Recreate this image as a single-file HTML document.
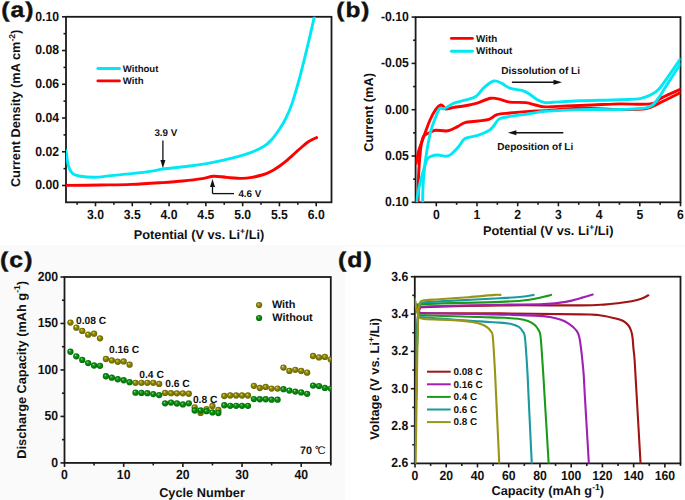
<!DOCTYPE html><html><head><meta charset="utf-8"><style>html,body{margin:0;padding:0;background:#fff;}svg{display:block;}text{font-family:"Liberation Sans",sans-serif;font-weight:bold;fill:#111;stroke:#111;stroke-width:0px;text-rendering:geometricPrecision;}</style></head><body>
<svg width="685" height="500" viewBox="0 0 685 500">
<defs>
<radialGradient id="gO" cx="0.5" cy="0.5" r="0.5" fx="0.36" fy="0.32"><stop offset="0" stop-color="#f2f0d0"/><stop offset="0.18" stop-color="#b8b240"/><stop offset="0.45" stop-color="#8c8600"/><stop offset="1" stop-color="#6a6400"/></radialGradient>
<radialGradient id="gG" cx="0.5" cy="0.5" r="0.5" fx="0.36" fy="0.32"><stop offset="0" stop-color="#e0f4e0"/><stop offset="0.18" stop-color="#40b040"/><stop offset="0.45" stop-color="#08900f"/><stop offset="1" stop-color="#046a08"/></radialGradient>
<clipPath id="cA"><rect x="66" y="16.8" width="265.5" height="185.5"/></clipPath>
<clipPath id="cB"><rect x="415.6" y="17.1" width="264.9" height="185.2"/></clipPath>
<clipPath id="cC"><rect x="64.5" y="277" width="266.3" height="185.9"/></clipPath>
<clipPath id="cD"><rect x="414.8" y="276.7" width="265.7" height="186.7"/></clipPath>
</defs>
<rect x="0" y="0" width="685" height="500" fill="#fff"/>
<rect x="0" y="245" width="345" height="255" fill="#fafafa"/>
<rect x="345" y="245" width="340" height="2" fill="#fafafa"/>
<rect x="64.5" y="277" width="266.3" height="185.9" fill="#fff"/>
<rect x="66" y="16.8" width="265.5" height="185.5" fill="none" stroke="#1a1a1a" stroke-width="1.8"/>
<line x1="95.5" y1="202.3" x2="95.5" y2="206.3" stroke="#1a1a1a" stroke-width="1.6"/>
<line x1="132.28" y1="202.3" x2="132.28" y2="206.3" stroke="#1a1a1a" stroke-width="1.6"/>
<line x1="169.07" y1="202.3" x2="169.07" y2="206.3" stroke="#1a1a1a" stroke-width="1.6"/>
<line x1="205.85" y1="202.3" x2="205.85" y2="206.3" stroke="#1a1a1a" stroke-width="1.6"/>
<line x1="242.64" y1="202.3" x2="242.64" y2="206.3" stroke="#1a1a1a" stroke-width="1.6"/>
<line x1="279.42" y1="202.3" x2="279.42" y2="206.3" stroke="#1a1a1a" stroke-width="1.6"/>
<line x1="316.21" y1="202.3" x2="316.21" y2="206.3" stroke="#1a1a1a" stroke-width="1.6"/>
<line x1="77.11" y1="202.3" x2="77.11" y2="204.8" stroke="#1a1a1a" stroke-width="1.6"/>
<line x1="113.89" y1="202.3" x2="113.89" y2="204.8" stroke="#1a1a1a" stroke-width="1.6"/>
<line x1="150.68" y1="202.3" x2="150.68" y2="204.8" stroke="#1a1a1a" stroke-width="1.6"/>
<line x1="187.46" y1="202.3" x2="187.46" y2="204.8" stroke="#1a1a1a" stroke-width="1.6"/>
<line x1="224.25" y1="202.3" x2="224.25" y2="204.8" stroke="#1a1a1a" stroke-width="1.6"/>
<line x1="261.03" y1="202.3" x2="261.03" y2="204.8" stroke="#1a1a1a" stroke-width="1.6"/>
<line x1="297.82" y1="202.3" x2="297.82" y2="204.8" stroke="#1a1a1a" stroke-width="1.6"/>
<line x1="66" y1="185.5" x2="62" y2="185.5" stroke="#1a1a1a" stroke-width="1.6"/>
<line x1="66" y1="151.76" x2="62" y2="151.76" stroke="#1a1a1a" stroke-width="1.6"/>
<line x1="66" y1="118.02" x2="62" y2="118.02" stroke="#1a1a1a" stroke-width="1.6"/>
<line x1="66" y1="84.28" x2="62" y2="84.28" stroke="#1a1a1a" stroke-width="1.6"/>
<line x1="66" y1="50.54" x2="62" y2="50.54" stroke="#1a1a1a" stroke-width="1.6"/>
<line x1="66" y1="16.8" x2="62" y2="16.8" stroke="#1a1a1a" stroke-width="1.6"/>
<line x1="66" y1="168.63" x2="63.5" y2="168.63" stroke="#1a1a1a" stroke-width="1.6"/>
<line x1="66" y1="134.89" x2="63.5" y2="134.89" stroke="#1a1a1a" stroke-width="1.6"/>
<line x1="66" y1="101.15" x2="63.5" y2="101.15" stroke="#1a1a1a" stroke-width="1.6"/>
<line x1="66" y1="67.41" x2="63.5" y2="67.41" stroke="#1a1a1a" stroke-width="1.6"/>
<line x1="66" y1="33.67" x2="63.5" y2="33.67" stroke="#1a1a1a" stroke-width="1.6"/>
<text transform="translate(95.5,219) scale(1.02,1.1)" text-anchor="middle" font-size="12">3.0</text>
<text transform="translate(132.28,219) scale(1.02,1.1)" text-anchor="middle" font-size="12">3.5</text>
<text transform="translate(169.07,219) scale(1.02,1.1)" text-anchor="middle" font-size="12">4.0</text>
<text transform="translate(205.85,219) scale(1.02,1.1)" text-anchor="middle" font-size="12">4.5</text>
<text transform="translate(242.64,219) scale(1.02,1.1)" text-anchor="middle" font-size="12">5.0</text>
<text transform="translate(279.42,219) scale(1.02,1.1)" text-anchor="middle" font-size="12">5.5</text>
<text transform="translate(316.21,219) scale(1.02,1.1)" text-anchor="middle" font-size="12">6.0</text>
<text transform="translate(59.1,189.32) scale(1.02,1.1)" text-anchor="end" font-size="12">0.00</text>
<text transform="translate(59.1,155.58) scale(1.02,1.1)" text-anchor="end" font-size="12">0.02</text>
<text transform="translate(59.1,121.84) scale(1.02,1.1)" text-anchor="end" font-size="12">0.04</text>
<text transform="translate(59.1,88.1) scale(1.02,1.1)" text-anchor="end" font-size="12">0.06</text>
<text transform="translate(59.1,54.36) scale(1.02,1.1)" text-anchor="end" font-size="12">0.08</text>
<text transform="translate(59.1,20.62) scale(1.02,1.1)" text-anchor="end" font-size="12">0.10</text>
<g clip-path="url(#cA)">
<path d="M66.1,185.4 C71.9,185.33 89.98,185.17 100.9,185 C111.82,184.83 121.38,184.8 131.6,184.4 C141.82,184 153.68,183.17 162.2,182.6 C170.72,182.03 176.02,181.67 182.7,181 C189.38,180.33 197.17,179.4 202.3,178.6 C207.43,177.8 209.42,176.4 213.5,176.2 C217.58,176 222.05,177.03 226.8,177.4 C231.55,177.77 237.8,178.4 242,178.4 C246.2,178.4 248.67,177.97 252,177.4 C255.33,176.83 259.33,175.77 262,175 C264.67,174.23 266,173.67 268,172.8 C270,171.93 272,170.97 274,169.8 C276,168.63 278,167.23 280,165.8 C282,164.37 284,162.87 286,161.2 C288,159.53 290,157.6 292,155.8 C294,154 296.17,152.03 298,150.4 C299.83,148.77 301.4,147.35 303,146 C304.6,144.65 306.1,143.33 307.6,142.3 C309.1,141.27 310.5,140.58 312,139.8 C313.5,139.02 315.83,137.97 316.6,137.6" fill="none" stroke="#ff0000" stroke-width="2.9" stroke-linecap="round" stroke-linejoin="round"/>
<path d="M66.1,150.7 C66.45,153.08 67.17,161.25 68.2,165 C69.23,168.75 70.27,171.33 72.3,173.2 C74.33,175.07 76.65,175.52 80.4,176.2 C84.15,176.88 89.7,177.4 94.8,177.3 C99.9,177.2 104.87,176.22 111,175.6 C117.13,174.98 124.77,174.35 131.6,173.6 C138.43,172.85 146.9,171.85 152,171.1 C157.1,170.35 158.78,169.62 162.2,169.1 C165.62,168.58 167.87,168.52 172.5,168 C177.13,167.48 183.68,166.85 190,166 C196.32,165.15 203.58,164.17 210.4,162.9 C217.22,161.63 224.08,160.17 230.9,158.4 C237.72,156.63 245.85,154.27 251.3,152.3 C256.75,150.33 260.18,148.75 263.6,146.6 C267.02,144.45 269.13,142.33 271.8,139.4 C274.47,136.47 277.32,132.4 279.6,129 C281.88,125.6 283.43,123.23 285.5,119 C287.57,114.77 289.52,110.97 292,103.6 C294.48,96.23 297.8,84.4 300.4,74.8 C303,65.2 305.28,55.6 307.6,46 C309.92,36.4 313.18,22 314.3,17.2" fill="none" stroke="#00e8f4" stroke-width="2.9" stroke-linecap="round" stroke-linejoin="round"/>
</g>
<line x1="97.9" y1="68.5" x2="119.4" y2="68.5" stroke="#00e8f4" stroke-width="2.9" stroke-linecap="round"/>
<line x1="97.9" y1="80.9" x2="119.4" y2="80.9" stroke="#ff0000" stroke-width="2.9" stroke-linecap="round"/>
<text x="122.8" y="71.7" font-size="9.6">Without</text>
<text x="122.8" y="83.9" font-size="9.6">With</text>
<text x="154.4" y="136" font-size="9.8">3.9 V</text>
<line x1="162.9" y1="140.4" x2="162.9" y2="162" stroke="#111" stroke-width="1.3"/>
<path d="M160.4,160 L165.4,160 L162.9,168.3 Z" fill="#111"/>
<line x1="212.5" y1="193.6" x2="234" y2="193.6" stroke="#111" stroke-width="1.3"/>
<line x1="212.5" y1="193.6" x2="212.5" y2="185" stroke="#111" stroke-width="1.3"/>
<path d="M210,187 L215,187 L212.5,179 Z" fill="#111"/>
<text x="238.4" y="197.3" font-size="9.8">4.6 V</text>
<text x="199" y="238.7" text-anchor="middle" font-size="12.75">Potential (V vs. Li<tspan dy="-5.2" font-size="8.6">+</tspan><tspan dy="5.2">/Li)</tspan></text>
<text transform="translate(20,108.4) rotate(-90)" text-anchor="middle" font-size="12.75">Current Density (mA cm<tspan dy="-5.2" font-size="8.6">-2</tspan><tspan dy="5.2">)</tspan></text>
<text transform="translate(1.3,17) scale(1.15,1)" font-size="21.5" letter-spacing="0.9" style="stroke-width:0.4px">(a)</text>
<rect x="415.6" y="17.1" width="264.9" height="185.2" fill="none" stroke="#1a1a1a" stroke-width="1.8"/>
<line x1="436.3" y1="202.3" x2="436.3" y2="206.3" stroke="#1a1a1a" stroke-width="1.6"/>
<line x1="477" y1="202.3" x2="477" y2="206.3" stroke="#1a1a1a" stroke-width="1.6"/>
<line x1="517.7" y1="202.3" x2="517.7" y2="206.3" stroke="#1a1a1a" stroke-width="1.6"/>
<line x1="558.4" y1="202.3" x2="558.4" y2="206.3" stroke="#1a1a1a" stroke-width="1.6"/>
<line x1="599.1" y1="202.3" x2="599.1" y2="206.3" stroke="#1a1a1a" stroke-width="1.6"/>
<line x1="639.8" y1="202.3" x2="639.8" y2="206.3" stroke="#1a1a1a" stroke-width="1.6"/>
<line x1="680.5" y1="202.3" x2="680.5" y2="206.3" stroke="#1a1a1a" stroke-width="1.6"/>
<line x1="456.65" y1="202.3" x2="456.65" y2="204.8" stroke="#1a1a1a" stroke-width="1.6"/>
<line x1="497.35" y1="202.3" x2="497.35" y2="204.8" stroke="#1a1a1a" stroke-width="1.6"/>
<line x1="538.05" y1="202.3" x2="538.05" y2="204.8" stroke="#1a1a1a" stroke-width="1.6"/>
<line x1="578.75" y1="202.3" x2="578.75" y2="204.8" stroke="#1a1a1a" stroke-width="1.6"/>
<line x1="619.45" y1="202.3" x2="619.45" y2="204.8" stroke="#1a1a1a" stroke-width="1.6"/>
<line x1="660.15" y1="202.3" x2="660.15" y2="204.8" stroke="#1a1a1a" stroke-width="1.6"/>
<line x1="415.6" y1="17.1" x2="411.6" y2="17.1" stroke="#1a1a1a" stroke-width="1.6"/>
<line x1="415.6" y1="63.4" x2="411.6" y2="63.4" stroke="#1a1a1a" stroke-width="1.6"/>
<line x1="415.6" y1="109.7" x2="411.6" y2="109.7" stroke="#1a1a1a" stroke-width="1.6"/>
<line x1="415.6" y1="156" x2="411.6" y2="156" stroke="#1a1a1a" stroke-width="1.6"/>
<line x1="415.6" y1="202.3" x2="411.6" y2="202.3" stroke="#1a1a1a" stroke-width="1.6"/>
<line x1="415.6" y1="40.25" x2="413.1" y2="40.25" stroke="#1a1a1a" stroke-width="1.6"/>
<line x1="415.6" y1="86.55" x2="413.1" y2="86.55" stroke="#1a1a1a" stroke-width="1.6"/>
<line x1="415.6" y1="132.85" x2="413.1" y2="132.85" stroke="#1a1a1a" stroke-width="1.6"/>
<line x1="415.6" y1="179.15" x2="413.1" y2="179.15" stroke="#1a1a1a" stroke-width="1.6"/>
<text transform="translate(436.3,219.2) scale(1.02,1.1)" text-anchor="middle" font-size="12">0</text>
<text transform="translate(477,219.2) scale(1.02,1.1)" text-anchor="middle" font-size="12">1</text>
<text transform="translate(517.7,219.2) scale(1.02,1.1)" text-anchor="middle" font-size="12">2</text>
<text transform="translate(558.4,219.2) scale(1.02,1.1)" text-anchor="middle" font-size="12">3</text>
<text transform="translate(599.1,219.2) scale(1.02,1.1)" text-anchor="middle" font-size="12">4</text>
<text transform="translate(639.8,219.2) scale(1.02,1.1)" text-anchor="middle" font-size="12">5</text>
<text transform="translate(680.5,219.2) scale(1.02,1.1)" text-anchor="middle" font-size="12">6</text>
<text transform="translate(408.8,20.92) scale(1.02,1.1)" text-anchor="end" font-size="12">-0.10</text>
<text transform="translate(408.8,67.22) scale(1.02,1.1)" text-anchor="end" font-size="12">-0.05</text>
<text transform="translate(408.8,113.52) scale(1.02,1.1)" text-anchor="end" font-size="12">0.00</text>
<text transform="translate(408.8,159.82) scale(1.02,1.1)" text-anchor="end" font-size="12">0.05</text>
<text transform="translate(408.8,206.12) scale(1.02,1.1)" text-anchor="end" font-size="12">0.10</text>
<g clip-path="url(#cB)">
<path d="M415.9,164.5 C416.42,162.08 417.65,154.75 419,150 C420.35,145.25 422.17,141 424,136 C425.83,131 428,124.47 430,120 C432,115.53 434.2,111.7 436,109.2 C437.8,106.7 439.5,105.4 440.8,105 C442.1,104.6 443,106.13 443.8,106.8 C444.6,107.47 443.9,108.9 445.6,109 C447.3,109.1 450.77,107.93 454,107.4 C457.23,106.87 461.3,106.47 465,105.8 C468.7,105.13 471.93,104.65 476.2,103.4 C480.47,102.15 486.6,98.97 490.6,98.3 C494.6,97.63 497,98.77 500.2,99.4 C503.4,100.03 505.53,101.57 509.8,102.1 C514.07,102.63 521.53,102.12 525.8,102.6 C530.07,103.08 532.2,104.28 535.4,105 C538.6,105.72 539.85,106.75 545,106.9 C550.15,107.05 558.37,106.22 566.3,105.9 C574.23,105.58 583.65,105.33 592.6,105 C601.55,104.67 610.3,104.08 620,103.9 C629.7,103.72 643.8,104.95 650.8,103.9 C657.8,102.85 656.97,100.08 662,97.6 C667.03,95.12 677.83,90.43 681,89" fill="none" stroke="#ff0000" stroke-width="2.9" stroke-linejoin="round"/>
<path d="M681,92.4 C677.37,94.2 665.17,100.47 659.2,103.2 C653.23,105.93 651.73,107.75 645.2,108.8 C638.67,109.85 630.97,109.58 620,109.5 C609.03,109.42 591.9,108.12 579.4,108.3 C566.9,108.48 553.4,110.08 545,110.6 C536.6,111.12 534.87,111 529,111.4 C523.13,111.8 515.13,112.47 509.8,113 C504.47,113.53 500.47,113.53 497,114.6 C493.53,115.67 492.2,118.33 489,119.4 C485.8,120.47 481.8,120.47 477.8,121 C473.8,121.53 468.37,121.67 465,122.6 C461.63,123.53 460.43,125.23 457.6,126.6 C454.77,127.97 451.6,130.2 448,130.8 C444.4,131.4 438.67,130.08 436,130.2 C433.33,130.32 433.83,130.7 432,131.5 C430.17,132.3 426.53,133.92 425,135 C423.47,136.08 423.55,135.5 422.8,138 C422.05,140.5 421.2,143.83 420.5,150 C419.8,156.17 419,166 418.6,175 C418.2,184 418.18,199.17 418.1,204" fill="none" stroke="#ff0000" stroke-width="2.9" stroke-linejoin="round"/>
<path d="M422.6,204 C422.67,201.17 422.7,192.83 423,187 C423.3,181.17 423.73,175.17 424.4,169 C425.07,162.83 425.87,156.57 427,150 C428.13,143.43 429.7,135.2 431.2,129.6 C432.7,124 434.6,119.9 436,116.4 C437.4,112.9 438.2,109.9 439.6,108.6 C441,107.3 442,109.5 444.4,108.6 C446.8,107.7 450.57,104.6 454,103.2 C457.43,101.8 461.3,101.37 465,100.2 C468.7,99.03 473,98.33 476.2,96.2 C479.4,94.07 481.27,89.93 484.2,87.4 C487.13,84.87 490.87,81.67 493.8,81 C496.73,80.33 499.13,82.2 501.8,83.4 C504.47,84.6 506.33,87 509.8,88.2 C513.27,89.4 519.4,89.67 522.6,90.6 C525.8,91.53 526.6,92.33 529,93.8 C531.4,95.27 534.33,97.93 537,99.4 C539.67,100.87 542.32,102.12 545,102.6 C547.68,103.08 547.37,102.6 553.1,102.3 C558.83,102 568.25,101.23 579.4,100.8 C590.55,100.37 609.73,100.12 620,99.7 C630.27,99.28 634.93,99.7 641,98.3 C647.07,96.9 652.2,94.45 656.4,91.3 C660.6,88.15 662.1,84.95 666.2,79.4 C670.3,73.85 678.53,61.57 681,58" fill="none" stroke="#00e8f4" stroke-width="2.9" stroke-linejoin="round"/>
<path d="M681,63 C678.77,66.43 671.47,77.6 667.6,83.6 C663.73,89.6 661.07,95.03 657.8,99 C654.53,102.97 654.3,105.65 648,107.4 C641.7,109.15 631.43,109.13 620,109.5 C608.57,109.87 591.9,109.28 579.4,109.6 C566.9,109.92 553.4,110.7 545,111.4 C536.6,112.1 535.4,112.87 529,113.8 C522.6,114.73 511.67,116.07 506.6,117 C501.53,117.93 500.73,117.93 498.6,119.4 C496.47,120.87 495.4,123.93 493.8,125.8 C492.2,127.67 491.67,129 489,130.6 C486.33,132.2 481.8,134.07 477.8,135.4 C473.8,136.73 468.17,136.75 465,138.6 C461.83,140.45 461.13,143.88 458.8,146.5 C456.47,149.12 453.17,152.68 451,154.3 C448.83,155.92 447.97,156.08 445.8,156.2 C443.63,156.32 440.38,155 438,155 C435.62,155 433.33,155.45 431.5,156.2 C429.67,156.95 428.48,156.62 427,159.5 C425.52,162.38 424.08,168.17 422.6,173.5 C421.12,178.83 419.15,186.42 418.1,191.5 C417.05,196.58 416.6,201.92 416.3,204" fill="none" stroke="#00e8f4" stroke-width="2.9" stroke-linejoin="round"/>
</g>
<line x1="451.4" y1="38.4" x2="472.4" y2="38.4" stroke="#ff0000" stroke-width="2.9" stroke-linecap="round"/>
<line x1="451.4" y1="51.3" x2="472.4" y2="51.3" stroke="#00e8f4" stroke-width="2.9" stroke-linecap="round"/>
<text x="476" y="41.8" font-size="9.8">With</text>
<text x="476" y="54.2" font-size="9.8">Without</text>
<text x="501.3" y="73.8" font-size="10.05">Dissolution of Li</text>
<line x1="511.9" y1="82.3" x2="555" y2="82.3" stroke="#111" stroke-width="1.4"/>
<path d="M553.5,79.8 L562.1,82.3 L553.5,84.8 Z" fill="#111"/>
<line x1="515" y1="132.8" x2="563.3" y2="132.8" stroke="#111" stroke-width="1.4"/>
<path d="M516.4,130.3 L507.8,132.8 L516.4,135.3 Z" fill="#111"/>
<text x="497.3" y="150" font-size="10.05">Deposition of Li</text>
<text x="548.2" y="235" text-anchor="middle" font-size="12.75">Potential (V vs. Li<tspan dy="-5.2" font-size="8.6">+</tspan><tspan dy="5.2">/Li)</tspan></text>
<text transform="translate(373.3,112.4) rotate(-90)" text-anchor="middle" font-size="12.75">Current (mA)</text>
<text transform="translate(336.3,17) scale(1.15,1)" font-size="21.2" letter-spacing="0.9" style="stroke-width:0.4px">(b)</text>
<rect x="64.5" y="277" width="266.3" height="185.9" fill="none" stroke="#1a1a1a" stroke-width="1.8"/>
<line x1="64.5" y1="462.9" x2="64.5" y2="466.9" stroke="#1a1a1a" stroke-width="1.6"/>
<line x1="123.68" y1="462.9" x2="123.68" y2="466.9" stroke="#1a1a1a" stroke-width="1.6"/>
<line x1="182.86" y1="462.9" x2="182.86" y2="466.9" stroke="#1a1a1a" stroke-width="1.6"/>
<line x1="242.04" y1="462.9" x2="242.04" y2="466.9" stroke="#1a1a1a" stroke-width="1.6"/>
<line x1="301.22" y1="462.9" x2="301.22" y2="466.9" stroke="#1a1a1a" stroke-width="1.6"/>
<line x1="94.09" y1="462.9" x2="94.09" y2="465.4" stroke="#1a1a1a" stroke-width="1.6"/>
<line x1="153.27" y1="462.9" x2="153.27" y2="465.4" stroke="#1a1a1a" stroke-width="1.6"/>
<line x1="212.45" y1="462.9" x2="212.45" y2="465.4" stroke="#1a1a1a" stroke-width="1.6"/>
<line x1="271.63" y1="462.9" x2="271.63" y2="465.4" stroke="#1a1a1a" stroke-width="1.6"/>
<line x1="330.81" y1="462.9" x2="330.81" y2="465.4" stroke="#1a1a1a" stroke-width="1.6"/>
<line x1="64.5" y1="462.9" x2="60.5" y2="462.9" stroke="#1a1a1a" stroke-width="1.6"/>
<line x1="64.5" y1="416.42" x2="60.5" y2="416.42" stroke="#1a1a1a" stroke-width="1.6"/>
<line x1="64.5" y1="369.95" x2="60.5" y2="369.95" stroke="#1a1a1a" stroke-width="1.6"/>
<line x1="64.5" y1="323.47" x2="60.5" y2="323.47" stroke="#1a1a1a" stroke-width="1.6"/>
<line x1="64.5" y1="277" x2="60.5" y2="277" stroke="#1a1a1a" stroke-width="1.6"/>
<line x1="64.5" y1="439.66" x2="62" y2="439.66" stroke="#1a1a1a" stroke-width="1.6"/>
<line x1="64.5" y1="393.19" x2="62" y2="393.19" stroke="#1a1a1a" stroke-width="1.6"/>
<line x1="64.5" y1="346.71" x2="62" y2="346.71" stroke="#1a1a1a" stroke-width="1.6"/>
<line x1="64.5" y1="300.24" x2="62" y2="300.24" stroke="#1a1a1a" stroke-width="1.6"/>
<text transform="translate(64.5,479.3) scale(1.02,1.1)" text-anchor="middle" font-size="12">0</text>
<text transform="translate(123.68,479.3) scale(1.02,1.1)" text-anchor="middle" font-size="12">10</text>
<text transform="translate(182.86,479.3) scale(1.02,1.1)" text-anchor="middle" font-size="12">20</text>
<text transform="translate(242.04,479.3) scale(1.02,1.1)" text-anchor="middle" font-size="12">30</text>
<text transform="translate(301.22,479.3) scale(1.02,1.1)" text-anchor="middle" font-size="12">40</text>
<text transform="translate(58.1,466.72) scale(1.02,1.1)" text-anchor="end" font-size="12">0</text>
<text transform="translate(58.1,420.24) scale(1.02,1.1)" text-anchor="end" font-size="12">50</text>
<text transform="translate(58.1,373.77) scale(1.02,1.1)" text-anchor="end" font-size="12">100</text>
<text transform="translate(58.1,327.29) scale(1.02,1.1)" text-anchor="end" font-size="12">150</text>
<text transform="translate(58.1,280.82) scale(1.02,1.1)" text-anchor="end" font-size="12">200</text>
<g clip-path="url(#cC)">
<circle cx="70.42" cy="322.55" r="3.15" fill="url(#gO)"/>
<circle cx="76.34" cy="327.66" r="3.15" fill="url(#gO)"/>
<circle cx="82.25" cy="330.91" r="3.15" fill="url(#gO)"/>
<circle cx="88.17" cy="334.63" r="3.15" fill="url(#gO)"/>
<circle cx="94.09" cy="333.7" r="3.15" fill="url(#gO)"/>
<circle cx="100.01" cy="338.35" r="3.15" fill="url(#gO)"/>
<circle cx="105.93" cy="358.98" r="3.15" fill="url(#gO)"/>
<circle cx="111.84" cy="360.38" r="3.15" fill="url(#gO)"/>
<circle cx="117.76" cy="361.77" r="3.15" fill="url(#gO)"/>
<circle cx="123.68" cy="361.4" r="3.15" fill="url(#gO)"/>
<circle cx="129.6" cy="364.65" r="3.15" fill="url(#gO)"/>
<circle cx="135.52" cy="382.87" r="3.15" fill="url(#gO)"/>
<circle cx="141.43" cy="382.87" r="3.15" fill="url(#gO)"/>
<circle cx="147.35" cy="382.87" r="3.15" fill="url(#gO)"/>
<circle cx="153.27" cy="382.87" r="3.15" fill="url(#gO)"/>
<circle cx="159.19" cy="383.89" r="3.15" fill="url(#gO)"/>
<circle cx="165.11" cy="392.91" r="3.15" fill="url(#gO)"/>
<circle cx="171.02" cy="393.19" r="3.15" fill="url(#gO)"/>
<circle cx="176.94" cy="393.37" r="3.15" fill="url(#gO)"/>
<circle cx="182.86" cy="393.37" r="3.15" fill="url(#gO)"/>
<circle cx="188.78" cy="393.75" r="3.15" fill="url(#gO)"/>
<circle cx="194.7" cy="407.32" r="3.15" fill="url(#gO)"/>
<circle cx="200.61" cy="412.89" r="3.15" fill="url(#gO)"/>
<circle cx="206.53" cy="409.27" r="3.15" fill="url(#gO)"/>
<circle cx="212.45" cy="406.01" r="3.15" fill="url(#gO)"/>
<circle cx="218.37" cy="410.01" r="3.15" fill="url(#gO)"/>
<circle cx="224.29" cy="395.98" r="3.15" fill="url(#gO)"/>
<circle cx="230.2" cy="395.51" r="3.15" fill="url(#gO)"/>
<circle cx="236.12" cy="395.51" r="3.15" fill="url(#gO)"/>
<circle cx="242.04" cy="395.51" r="3.15" fill="url(#gO)"/>
<circle cx="247.96" cy="395.51" r="3.15" fill="url(#gO)"/>
<circle cx="253.88" cy="385.84" r="3.15" fill="url(#gO)"/>
<circle cx="259.79" cy="387.98" r="3.15" fill="url(#gO)"/>
<circle cx="265.71" cy="386.96" r="3.15" fill="url(#gO)"/>
<circle cx="271.63" cy="388.54" r="3.15" fill="url(#gO)"/>
<circle cx="277.55" cy="388.54" r="3.15" fill="url(#gO)"/>
<circle cx="283.47" cy="367.53" r="3.15" fill="url(#gO)"/>
<circle cx="289.38" cy="370.88" r="3.15" fill="url(#gO)"/>
<circle cx="295.3" cy="369.86" r="3.15" fill="url(#gO)"/>
<circle cx="301.22" cy="370.88" r="3.15" fill="url(#gO)"/>
<circle cx="307.14" cy="372.65" r="3.15" fill="url(#gO)"/>
<circle cx="313.06" cy="356.01" r="3.15" fill="url(#gO)"/>
<circle cx="318.97" cy="357.4" r="3.15" fill="url(#gO)"/>
<circle cx="324.89" cy="356.94" r="3.15" fill="url(#gO)"/>
<circle cx="330.81" cy="359.45" r="3.15" fill="url(#gO)"/>
<circle cx="70.42" cy="351.73" r="3.15" fill="url(#gG)"/>
<circle cx="76.34" cy="356.29" r="3.15" fill="url(#gG)"/>
<circle cx="82.25" cy="359.91" r="3.15" fill="url(#gG)"/>
<circle cx="88.17" cy="363.07" r="3.15" fill="url(#gG)"/>
<circle cx="94.09" cy="365.49" r="3.15" fill="url(#gG)"/>
<circle cx="100.01" cy="365.86" r="3.15" fill="url(#gG)"/>
<circle cx="105.93" cy="376.27" r="3.15" fill="url(#gG)"/>
<circle cx="111.84" cy="377.66" r="3.15" fill="url(#gG)"/>
<circle cx="117.76" cy="379.25" r="3.15" fill="url(#gG)"/>
<circle cx="123.68" cy="380.27" r="3.15" fill="url(#gG)"/>
<circle cx="129.6" cy="382.22" r="3.15" fill="url(#gG)"/>
<circle cx="135.52" cy="392.63" r="3.15" fill="url(#gG)"/>
<circle cx="141.43" cy="392.91" r="3.15" fill="url(#gG)"/>
<circle cx="147.35" cy="393.19" r="3.15" fill="url(#gG)"/>
<circle cx="153.27" cy="394.12" r="3.15" fill="url(#gG)"/>
<circle cx="159.19" cy="395.05" r="3.15" fill="url(#gG)"/>
<circle cx="165.11" cy="403.32" r="3.15" fill="url(#gG)"/>
<circle cx="171.02" cy="402.58" r="3.15" fill="url(#gG)"/>
<circle cx="176.94" cy="403.5" r="3.15" fill="url(#gG)"/>
<circle cx="182.86" cy="404.43" r="3.15" fill="url(#gG)"/>
<circle cx="188.78" cy="403.32" r="3.15" fill="url(#gG)"/>
<circle cx="194.7" cy="410.48" r="3.15" fill="url(#gG)"/>
<circle cx="200.61" cy="410.48" r="3.15" fill="url(#gG)"/>
<circle cx="206.53" cy="411.22" r="3.15" fill="url(#gG)"/>
<circle cx="212.45" cy="412.43" r="3.15" fill="url(#gG)"/>
<circle cx="218.37" cy="412.99" r="3.15" fill="url(#gG)"/>
<circle cx="224.29" cy="405.27" r="3.15" fill="url(#gG)"/>
<circle cx="230.2" cy="405.83" r="3.15" fill="url(#gG)"/>
<circle cx="236.12" cy="405.83" r="3.15" fill="url(#gG)"/>
<circle cx="242.04" cy="405.83" r="3.15" fill="url(#gG)"/>
<circle cx="247.96" cy="405.83" r="3.15" fill="url(#gG)"/>
<circle cx="253.88" cy="399.04" r="3.15" fill="url(#gG)"/>
<circle cx="259.79" cy="399.23" r="3.15" fill="url(#gG)"/>
<circle cx="265.71" cy="399.23" r="3.15" fill="url(#gG)"/>
<circle cx="271.63" cy="399.69" r="3.15" fill="url(#gG)"/>
<circle cx="277.55" cy="399.69" r="3.15" fill="url(#gG)"/>
<circle cx="283.47" cy="389.19" r="3.15" fill="url(#gG)"/>
<circle cx="289.38" cy="390.58" r="3.15" fill="url(#gG)"/>
<circle cx="295.3" cy="391.61" r="3.15" fill="url(#gG)"/>
<circle cx="301.22" cy="392.44" r="3.15" fill="url(#gG)"/>
<circle cx="307.14" cy="393.84" r="3.15" fill="url(#gG)"/>
<circle cx="313.06" cy="385.57" r="3.15" fill="url(#gG)"/>
<circle cx="318.97" cy="386.03" r="3.15" fill="url(#gG)"/>
<circle cx="324.89" cy="387.89" r="3.15" fill="url(#gG)"/>
<circle cx="330.81" cy="388.54" r="3.15" fill="url(#gG)"/>
</g>
<circle cx="259.1" cy="305.1" r="3.1" fill="url(#gO)"/>
<circle cx="259.1" cy="318" r="3.1" fill="url(#gG)"/>
<text x="271.9" y="308.1" font-size="10.9">With</text>
<text x="272.3" y="321.3" font-size="10.9">Without</text>
<text x="76" y="323.5" font-size="10.26">0.08 C</text>
<text x="109" y="353.1" font-size="10.26">0.16 C</text>
<text x="139.3" y="377.7" font-size="10.26">0.4 C</text>
<text x="165.2" y="387.1" font-size="10.26">0.6 C</text>
<text x="192.9" y="403.3" font-size="10.26">0.8 C</text>
<text x="300" y="454.4" font-size="10.8">70</text>
<circle cx="316.9" cy="447.4" r="1.15" fill="none" stroke="#1a1a1a" stroke-width="0.95"/>
<text x="317.6" y="454.4" font-size="11.2" font-weight="normal" style="font-weight:normal;stroke-width:0">C</text>
<text x="202" y="497" text-anchor="middle" font-size="12.75">Cycle Number</text>
<text transform="translate(25.6,369.8) rotate(-90)" text-anchor="middle" font-size="12.75">Discharge Capacity (mAh g<tspan dy="-5.2" font-size="8.6">-1</tspan><tspan dy="5.2">)</tspan></text>
<text transform="translate(0.1,266.5) scale(1.15,1)" font-size="21.5" letter-spacing="0.9" style="stroke-width:0.4px">(c)</text>
<rect x="414.8" y="276.7" width="265.7" height="186.7" fill="none" stroke="#1a1a1a" stroke-width="1.8"/>
<line x1="415" y1="463.4" x2="415" y2="467.4" stroke="#1a1a1a" stroke-width="1.6"/>
<line x1="446.24" y1="463.4" x2="446.24" y2="467.4" stroke="#1a1a1a" stroke-width="1.6"/>
<line x1="477.47" y1="463.4" x2="477.47" y2="467.4" stroke="#1a1a1a" stroke-width="1.6"/>
<line x1="508.71" y1="463.4" x2="508.71" y2="467.4" stroke="#1a1a1a" stroke-width="1.6"/>
<line x1="539.94" y1="463.4" x2="539.94" y2="467.4" stroke="#1a1a1a" stroke-width="1.6"/>
<line x1="571.18" y1="463.4" x2="571.18" y2="467.4" stroke="#1a1a1a" stroke-width="1.6"/>
<line x1="602.42" y1="463.4" x2="602.42" y2="467.4" stroke="#1a1a1a" stroke-width="1.6"/>
<line x1="633.65" y1="463.4" x2="633.65" y2="467.4" stroke="#1a1a1a" stroke-width="1.6"/>
<line x1="664.89" y1="463.4" x2="664.89" y2="467.4" stroke="#1a1a1a" stroke-width="1.6"/>
<line x1="430.62" y1="463.4" x2="430.62" y2="465.9" stroke="#1a1a1a" stroke-width="1.6"/>
<line x1="461.85" y1="463.4" x2="461.85" y2="465.9" stroke="#1a1a1a" stroke-width="1.6"/>
<line x1="493.09" y1="463.4" x2="493.09" y2="465.9" stroke="#1a1a1a" stroke-width="1.6"/>
<line x1="524.33" y1="463.4" x2="524.33" y2="465.9" stroke="#1a1a1a" stroke-width="1.6"/>
<line x1="555.56" y1="463.4" x2="555.56" y2="465.9" stroke="#1a1a1a" stroke-width="1.6"/>
<line x1="586.8" y1="463.4" x2="586.8" y2="465.9" stroke="#1a1a1a" stroke-width="1.6"/>
<line x1="618.03" y1="463.4" x2="618.03" y2="465.9" stroke="#1a1a1a" stroke-width="1.6"/>
<line x1="649.27" y1="463.4" x2="649.27" y2="465.9" stroke="#1a1a1a" stroke-width="1.6"/>
<line x1="680.51" y1="463.4" x2="680.51" y2="465.9" stroke="#1a1a1a" stroke-width="1.6"/>
<line x1="414.8" y1="463.4" x2="410.8" y2="463.4" stroke="#1a1a1a" stroke-width="1.6"/>
<line x1="414.8" y1="426.06" x2="410.8" y2="426.06" stroke="#1a1a1a" stroke-width="1.6"/>
<line x1="414.8" y1="388.72" x2="410.8" y2="388.72" stroke="#1a1a1a" stroke-width="1.6"/>
<line x1="414.8" y1="351.38" x2="410.8" y2="351.38" stroke="#1a1a1a" stroke-width="1.6"/>
<line x1="414.8" y1="314.04" x2="410.8" y2="314.04" stroke="#1a1a1a" stroke-width="1.6"/>
<line x1="414.8" y1="276.7" x2="410.8" y2="276.7" stroke="#1a1a1a" stroke-width="1.6"/>
<line x1="414.8" y1="444.73" x2="412.3" y2="444.73" stroke="#1a1a1a" stroke-width="1.6"/>
<line x1="414.8" y1="407.39" x2="412.3" y2="407.39" stroke="#1a1a1a" stroke-width="1.6"/>
<line x1="414.8" y1="370.05" x2="412.3" y2="370.05" stroke="#1a1a1a" stroke-width="1.6"/>
<line x1="414.8" y1="332.71" x2="412.3" y2="332.71" stroke="#1a1a1a" stroke-width="1.6"/>
<line x1="414.8" y1="295.37" x2="412.3" y2="295.37" stroke="#1a1a1a" stroke-width="1.6"/>
<text transform="translate(415,479.5) scale(1.02,1.1)" text-anchor="middle" font-size="12">0</text>
<text transform="translate(446.24,479.5) scale(1.02,1.1)" text-anchor="middle" font-size="12">20</text>
<text transform="translate(477.47,479.5) scale(1.02,1.1)" text-anchor="middle" font-size="12">40</text>
<text transform="translate(508.71,479.5) scale(1.02,1.1)" text-anchor="middle" font-size="12">60</text>
<text transform="translate(539.94,479.5) scale(1.02,1.1)" text-anchor="middle" font-size="12">80</text>
<text transform="translate(571.18,479.5) scale(1.02,1.1)" text-anchor="middle" font-size="12">100</text>
<text transform="translate(602.42,479.5) scale(1.02,1.1)" text-anchor="middle" font-size="12">120</text>
<text transform="translate(633.65,479.5) scale(1.02,1.1)" text-anchor="middle" font-size="12">140</text>
<text transform="translate(664.89,479.5) scale(1.02,1.1)" text-anchor="middle" font-size="12">160</text>
<text transform="translate(408.2,467.22) scale(1.02,1.1)" text-anchor="end" font-size="12">2.6</text>
<text transform="translate(408.2,429.88) scale(1.02,1.1)" text-anchor="end" font-size="12">2.8</text>
<text transform="translate(408.2,392.54) scale(1.02,1.1)" text-anchor="end" font-size="12">3.0</text>
<text transform="translate(408.2,355.2) scale(1.02,1.1)" text-anchor="end" font-size="12">3.2</text>
<text transform="translate(408.2,317.86) scale(1.02,1.1)" text-anchor="end" font-size="12">3.4</text>
<text transform="translate(408.2,280.52) scale(1.02,1.1)" text-anchor="end" font-size="12">3.6</text>
<text x="547.8" y="494.9" text-anchor="middle" font-size="12.75">Capacity (mAh g<tspan dy="-5.2" font-size="8.6">-1</tspan><tspan dy="5.2">)</tspan></text>
<text transform="translate(378.8,378.8) rotate(-90)" text-anchor="middle" font-size="12.75">Voltage (V vs. Li<tspan dy="-5.2" font-size="8.6">+</tspan><tspan dy="5.2">/Li)</tspan></text>
<text transform="translate(338.1,266.5) scale(1.15,1)" font-size="21.5" letter-spacing="0.9" style="stroke-width:0.4px">(d)</text>
<g clip-path="url(#cD)">
<path d="M414.8,305 C415.08,305.75 415.8,308.25 416.5,309.5 C417.2,310.75 417.75,311.92 419,312.5 C420.25,313.08 422.17,312.88 424,313 C425.83,313.12 417.33,313.13 430,313.2 C442.67,313.27 475,313.2 500,313.4 C525,313.6 563.67,314.13 580,314.4 C596.33,314.67 592.4,314.4 598,315 C603.6,315.6 609.4,317 613.6,318 C617.8,319 620.72,319.75 623.2,321 C625.68,322.25 627.17,323.83 628.5,325.5 C629.83,327.17 630.52,328.92 631.2,331 C631.88,333.08 632.23,335.17 632.6,338 C632.97,340.83 633.07,344.33 633.4,348 C633.73,351.67 634.15,353.67 634.6,360 C635.05,366.33 635.6,377.33 636.1,386 C636.6,394.67 637.1,403.33 637.6,412 C638.1,420.67 638.6,429.33 639.1,438 C639.6,446.67 640.35,459.67 640.6,464" fill="none" stroke="#a01414" stroke-width="2.1" stroke-linejoin="round" stroke-linecap="round"/>
<path d="M414.6,464 C414.83,453.33 415.58,420.67 416,400 C416.42,379.33 416.83,352.5 417.1,340 C417.37,327.5 417.4,329.33 417.6,325 C417.8,320.67 417.93,316.67 418.3,314 C418.67,311.33 419.02,310.13 419.8,309 C420.58,307.87 409.63,307.8 423,307.2 C436.37,306.6 473.83,305.7 500,305.4 C526.17,305.1 562.67,305.53 580,305.4 C597.33,305.27 597.4,305 604,304.6 C610.6,304.2 615,303.57 619.6,303 C624.2,302.43 627.98,301.92 631.6,301.2 C635.22,300.48 638.52,299.68 641.3,298.7 C644.08,297.72 647.13,295.87 648.3,295.3" fill="none" stroke="#a01414" stroke-width="2.1" stroke-linejoin="round" stroke-linecap="round"/>
<path d="M414.8,304 C415.08,304.83 415.8,307.58 416.5,309 C417.2,310.42 417.75,311.78 419,312.5 C420.25,313.22 413.83,313.02 424,313.3 C434.17,313.58 465.67,313.95 480,314.2 C494.33,314.45 500.83,314.57 510,314.8 C519.17,315.03 528.33,315.23 535,315.6 C541.67,315.97 545.67,316.3 550,317 C554.33,317.7 557.83,318.67 561,319.8 C564.17,320.93 566.58,322.18 569,323.8 C571.42,325.42 573.75,327.13 575.5,329.5 C577.25,331.87 578.2,331.27 579.5,338 C580.8,344.73 582.43,360.66 583.3,369.9 C584.17,379.14 584.23,385.58 584.7,393.42 C585.17,401.27 585.63,409.11 586.1,416.95 C586.57,424.79 587.03,432.63 587.5,440.48 C587.97,448.32 588.67,460.08 588.9,464" fill="none" stroke="#a020b4" stroke-width="2.1" stroke-linejoin="round" stroke-linecap="round"/>
<path d="M414.6,464 C414.83,453.33 415.58,420.67 416,400 C416.42,379.33 416.83,352.5 417.1,340 C417.37,327.5 417.4,329.5 417.6,325 C417.8,320.5 417.93,315.83 418.3,313 C418.67,310.17 419.02,309.08 419.8,308 C420.58,306.92 409.63,307.03 423,306.5 C436.37,305.97 479.87,305.2 500,304.8 C520.13,304.4 532.85,304.58 543.8,304.1 C554.75,303.62 559.62,302.88 565.7,301.9 C571.78,300.92 575.8,299.42 580.3,298.2 C584.8,296.98 590.63,295.2 592.7,294.6" fill="none" stroke="#a020b4" stroke-width="2.1" stroke-linejoin="round" stroke-linecap="round"/>
<path d="M414.8,302 C415.08,303.17 415.8,307 416.5,309 C417.2,311 417.75,312.95 419,314 C420.25,315.05 413.83,314.8 424,315.3 C434.17,315.8 466.5,316.58 480,317 C493.5,317.42 498.67,317.5 505,317.8 C511.33,318.1 514.17,318.27 518,318.8 C521.83,319.33 525.25,320 528,321 C530.75,322 532.75,323.3 534.5,324.8 C536.25,326.3 537.48,327.97 538.5,330 C539.52,332.03 539.85,330.35 540.6,337 C541.35,343.65 542.36,360.5 543,369.9 C543.64,379.3 543.95,385.58 544.42,393.42 C544.9,401.27 545.38,409.11 545.85,416.95 C546.33,424.79 546.8,432.63 547.28,440.48 C547.75,448.32 548.46,460.08 548.7,464" fill="none" stroke="#199a19" stroke-width="2.1" stroke-linejoin="round" stroke-linecap="round"/>
<path d="M414.6,464 C414.83,453.33 415.58,420.67 416,400 C416.42,379.33 416.83,352.5 417.1,340 C417.37,327.5 417.4,329.67 417.6,325 C417.8,320.33 417.93,315.17 418.3,312 C418.67,308.83 419.02,307.33 419.8,306 C420.58,304.67 409.63,304.68 423,304 C436.37,303.32 482.3,302.62 500,301.9 C517.7,301.18 521.9,300.55 529.2,299.7 C536.5,298.85 540.15,297.6 543.8,296.8 C547.45,296 549.88,295.22 551.1,294.9" fill="none" stroke="#199a19" stroke-width="2.1" stroke-linejoin="round" stroke-linecap="round"/>
<path d="M414.8,300 C415.08,301.5 415.8,306.42 416.5,309 C417.2,311.58 417.75,314.12 419,315.5 C420.25,316.88 413.83,316.32 424,317.3 C434.17,318.28 467.33,320.52 480,321.4 C492.67,322.28 494.67,322.13 500,322.6 C505.33,323.07 508.83,323.47 512,324.2 C515.17,324.93 517.2,325.78 519,327 C520.8,328.22 521.8,329.67 522.8,331.5 C523.8,333.33 524.25,331.6 525,338 C525.75,344.4 526.73,360.66 527.3,369.9 C527.87,379.14 528.05,385.58 528.42,393.42 C528.8,401.27 529.17,409.11 529.55,416.95 C529.92,424.79 530.3,432.63 530.67,440.48 C531.05,448.32 531.61,460.08 531.8,464" fill="none" stroke="#1a9aa0" stroke-width="2.1" stroke-linejoin="round" stroke-linecap="round"/>
<path d="M414.6,464 C414.83,453.33 415.58,420.67 416,400 C416.42,379.33 416.83,352.5 417.1,340 C417.37,327.5 417.4,329.83 417.6,325 C417.8,320.17 417.93,314.42 418.3,311 C418.67,307.58 419.02,305.92 419.8,304.5 C420.58,303.08 417.33,303.15 423,302.5 C428.67,301.85 440.97,301.32 453.8,300.6 C466.63,299.88 488.65,298.83 500,298.2 C511.35,297.57 516.3,297.35 521.9,296.8 C527.5,296.25 531.65,295.22 533.6,294.9" fill="none" stroke="#1a9aa0" stroke-width="2.1" stroke-linejoin="round" stroke-linecap="round"/>
<path d="M414.8,298.5 C415.08,300.25 415.8,306 416.5,309 C417.2,312 417.75,314.83 419,316.5 C420.25,318.17 418.2,318.4 424,319 C429.8,319.6 445.8,319.6 453.8,320.1 C461.8,320.6 467.3,321.28 472,322 C476.7,322.72 479.4,323.47 482,324.4 C484.6,325.33 486.1,326.42 487.6,327.6 C489.1,328.78 490.13,329.93 491,331.5 C491.87,333.07 492.15,330.6 492.8,337 C493.45,343.4 494.37,360.5 494.9,369.9 C495.43,379.3 495.63,385.58 496,393.42 C496.37,401.27 496.73,409.11 497.1,416.95 C497.47,424.79 497.83,432.63 498.2,440.48 C498.57,448.32 499.12,460.08 499.3,464" fill="none" stroke="#9a9414" stroke-width="2.1" stroke-linejoin="round" stroke-linecap="round"/>
<path d="M415.6,464 C415.77,453.33 416.28,420.67 416.6,400 C416.92,379.33 417.27,352.5 417.5,340 C417.73,327.5 417.85,330 418,325 C418.15,320 418.07,313.67 418.4,310 C418.73,306.33 419.23,304.58 420,303 C420.77,301.42 419.8,301.13 423,300.5 C426.2,299.87 431.63,299.75 439.2,299.2 C446.77,298.65 459.15,297.92 468.4,297.2 C477.65,296.48 489.35,295.28 494.7,294.9 C500.05,294.52 499.53,294.9 500.5,294.9" fill="none" stroke="#9a9414" stroke-width="2.1" stroke-linejoin="round" stroke-linecap="round"/>
</g>
<line x1="427" y1="371.7" x2="450.7" y2="371.7" stroke="#a01414" stroke-width="2"/>
<text x="453.5" y="375" font-size="9.9">0.08 C</text>
<line x1="427" y1="384.3" x2="450.7" y2="384.3" stroke="#a020b4" stroke-width="2"/>
<text x="453.5" y="387.6" font-size="9.9">0.16 C</text>
<line x1="427" y1="396.9" x2="450.7" y2="396.9" stroke="#199a19" stroke-width="2"/>
<text x="453.5" y="400.2" font-size="9.9">0.4 C</text>
<line x1="427" y1="409.5" x2="450.7" y2="409.5" stroke="#1a9aa0" stroke-width="2"/>
<text x="453.5" y="412.8" font-size="9.9">0.6 C</text>
<line x1="427" y1="422.1" x2="450.7" y2="422.1" stroke="#9a9414" stroke-width="2"/>
<text x="453.5" y="425.4" font-size="9.9">0.8 C</text>
</svg></body></html>
